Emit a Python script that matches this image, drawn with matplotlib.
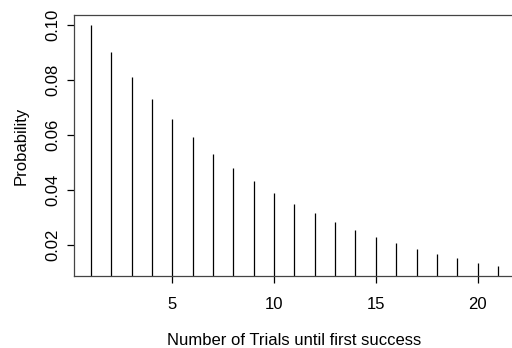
import matplotlib
matplotlib.use("Agg")
import matplotlib.pyplot as plt

trials = list(range(1, 22))
probs = [0.1, 0.09, 0.081, 0.0729, 0.06561, 0.059049, 0.0531441, 0.04782969,
         0.043046721, 0.0387420489, 0.0348678, 0.0313811, 0.0282430, 0.0254187,
         0.0228768, 0.0205891, 0.0185302, 0.0166772, 0.0150095, 0.0135085, 0.0121577]
xticks = [5, 10, 15, 20]
yticks = [0.02, 0.04, 0.06, 0.08, 0.10]
ytick_labels = ["0.02", "0.04", "0.06", "0.08", "0.10"]

plt.rcParams["font.family"] = ["Liberation Sans", "DejaVu Sans"]
fig = plt.figure(figsize=(5.12, 3.48), dpi=100)
ax = fig.add_axes([0.1455, 0.207, 0.859, 0.750])

ax.vlines(trials, 0, probs, color="black", linewidth=0.9)
ax.set_xlim(0.2, 21.8)
ax.set_ylim(0.00864, 0.1035)

for s in ax.spines.values():
    s.set_linewidth(0.9)
    s.set_color("#444444")
ax.spines["right"].set_visible(False)

ax.set_xticks(xticks)
ax.set_xticklabels([str(t) for t in xticks], fontsize=12)
ax.set_yticks(yticks)
ax.set_yticklabels(ytick_labels, fontsize=12, rotation=90, va="center")
ax.tick_params(direction="out", length=5, width=0.9)
ax.tick_params(axis="x", pad=10)
ax.tick_params(axis="y", pad=5)

ax.set_xlabel("Number of Trials until first success", fontsize=12, labelpad=15)
ax.set_ylabel("Probability", fontsize=12, labelpad=12)

fig.savefig("out.png", dpi=100)
